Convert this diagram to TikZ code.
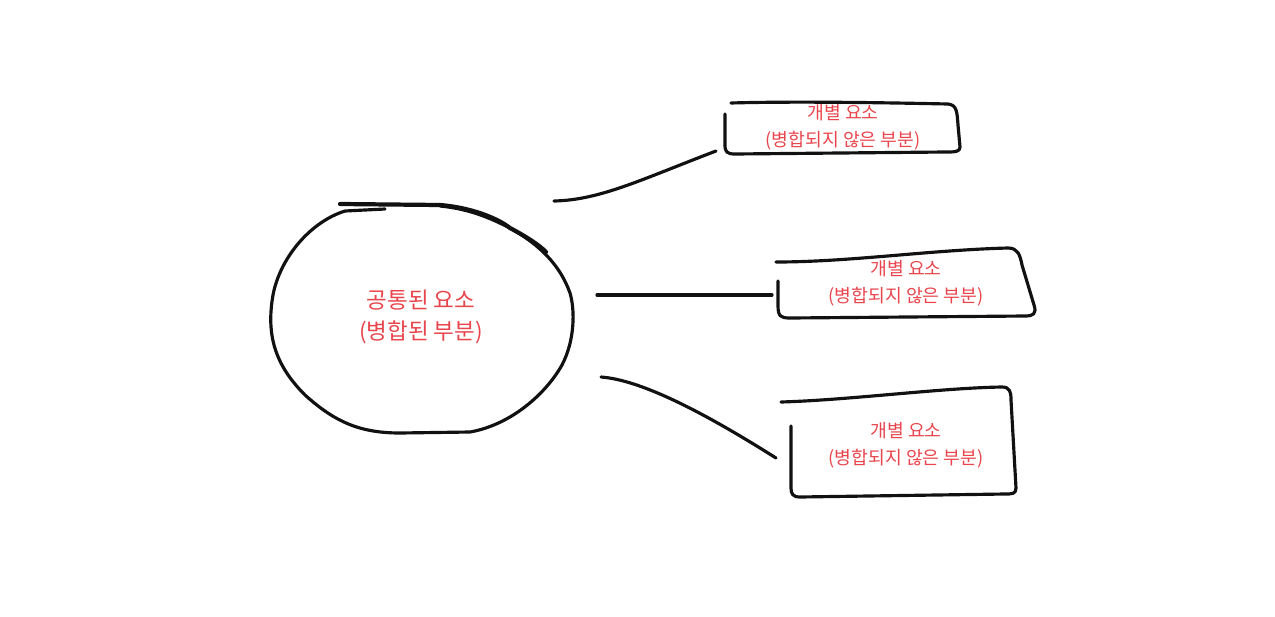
\documentclass[tikz,border=0pt]{standalone}
\usepackage{fontspec}
\newfontfamily\krfont{Noto Sans CJK KR}
\definecolor{SketchRed}{HTML}{E8454C}
\definecolor{SketchInk}{HTML}{111111}
\usetikzlibrary{positioning}
\tikzset{
    % hand drawn strokes
    pen/.style={
        draw=SketchInk,
        line width=1.8pt,
        line cap=round,
        line join=round
    },
    pen heavy/.style={
        pen,
        line width=2.4pt
    },
    % labels
    common label/.style={
        align=center,
        text=SketchRed,
        font=\krfont\fontsize{12.8}{17.5}\selectfont
    },
    part label/.style={
        align=center,
        text=SketchRed,
        font=\krfont\fontsize{10.4}{15.5}\selectfont
    }
}
\begin{document}
\begin{tikzpicture}[x=0.02cm, y=-0.02cm]
    \useasboundingbox (0,0) rectangle (1275,616);

    % Common part
    \node[common label] (common) at (421,317) {공통된 요소\\(병합된 부분)};
    \draw[pen] (385,209) -- (345,211) .. controls (310,222) and (280,258) .. (273,295)
        .. controls (266,335) and (275,365) .. (305,395)
        .. controls (335,422) and (360,433) .. (400,433)
        -- (470,432) .. controls (510,425) and (545,395) .. (562,365)
        .. controls (575,340) and (575,310) .. (570,293)
        .. controls (560,265) and (540,245) .. (510,228)
        .. controls (490,218) and (470,209) .. (440,206);
    \draw[pen heavy] (340,204) -- (440,205) .. controls (475,208) and (500,220) .. (510,228)
        .. controls (525,236) and (538,244) .. (546,252);

    % Separate parts
    \node[part label] (part1) at (843,127) {개별 요소\\(병합되지 않은 부분)};
    \node[part label] (part2) at (906,283) {개별 요소\\(병합되지 않은 부분)};
    \node[part label] (part3) at (906,445) {개별 요소\\(병합되지 않은 부분)};

    % box outlines
    \draw[pen] (731,103) .. controls (800,101) and (900,103) .. (948,104)
        .. controls (957,105) and (957,112) .. (958,125)
        -- (960,147) .. controls (960,152) and (955,152) .. (945,152)
        -- (735,154) .. controls (727,154) and (725,152) .. (725,145) -- (725,114);
    \draw[pen] (776,262) .. controls (850,262) and (930,250) .. (1008,248)
        .. controls (1018,248) and (1020,255) .. (1022,265)
        -- (1034,305) .. controls (1037,314) and (1033,316) .. (1025,316)
        -- (790,318) .. controls (780,318) and (778,316) .. (778,305) -- (778,281);
    \draw[pen] (781,402) .. controls (850,400) and (940,388) .. (1002,387)
        .. controls (1010,387) and (1011,392) .. (1011,400)
        -- (1016,488) .. controls (1016,494) and (1012,494) .. (1005,494)
        -- (800,497) .. controls (793,497) and (791,494) .. (791,488) -- (791,426);

    % Connectors
    \coordinate (out1) at (554,201);
    \coordinate (in1) at (716,151);
    \coordinate (out2) at (597,295);
    \coordinate (in2) at (772,295);
    \coordinate (out3) at (601,377);
    \coordinate (in3) at (776,458);
    \draw[pen] (out1) .. controls (600,200) and (640,180) .. (in1);
    \draw[pen] (out2) -- (in2);
    \draw[pen] (out3) .. controls (640,380) and (700,410) .. (in3);
\end{tikzpicture}
\end{document}
